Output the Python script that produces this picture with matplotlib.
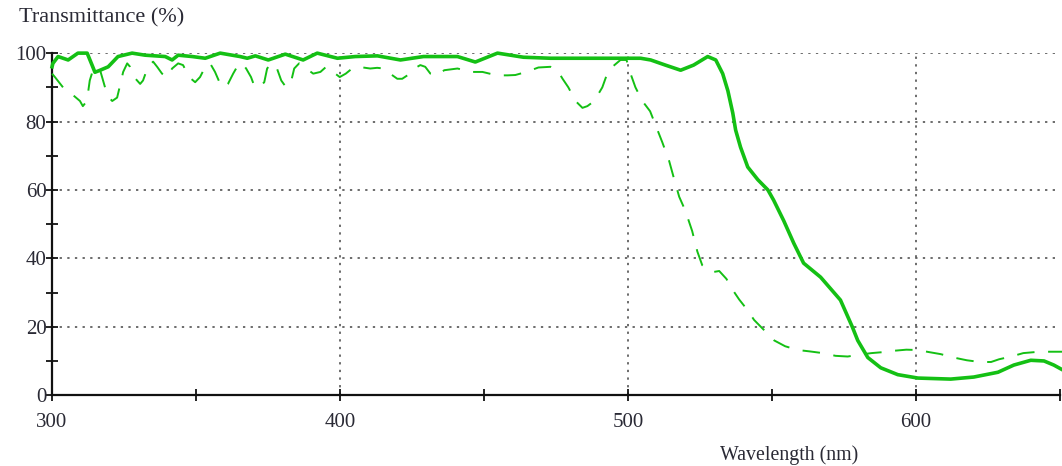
import matplotlib.pyplot as plt
from matplotlib.ticker import MultipleLocator

# solid curve (wavelength nm, transmittance %)
solid_nm = [300.0, 300.3, 302.1, 305.6, 309.0, 312.2, 313.9, 314.9, 316.7, 319.5,
            322.9, 327.8, 332.3, 339.3, 341.7, 343.8, 348.7, 353.2, 358.4, 365.3,
            367.8, 370.6, 375.1, 381.0, 387.2, 392.1, 399.1, 405.3, 413.0, 421.0,
            429.0, 440.8, 447.0, 454.7, 463.7, 473.1, 497.4, 504.4, 507.9, 513.0,
            518.3, 522.8, 527.7, 530.5, 532.9, 534.7, 536.4, 537.4, 539.1, 541.6,
            545.1, 548.6, 550.6, 554.1, 557.6, 561.0, 566.9, 573.8, 577.9, 579.8,
            583.3, 587.8, 593.7, 600.7, 612.1, 620.1, 628.5, 634.0, 639.9, 644.5,
            647.9, 650.5]
solid_t = [96.0, 97.0, 99.0, 98.0, 100.0, 100.0, 96.5, 94.4, 95.0, 96.0,
           99.0, 100.0, 99.4, 99.0, 98.0, 99.4, 99.0, 98.5, 100.0, 99.0,
           98.5, 99.2, 98.0, 99.7, 98.0, 100.0, 98.5, 99.0, 99.2, 98.0,
           99.0, 99.0, 97.4, 100.0, 98.8, 98.5, 98.5, 98.5, 98.0, 96.5,
           95.0, 96.5, 99.0, 98.0, 94.0, 89.0, 82.5, 77.5, 72.5, 66.7,
           63.0, 60.0, 57.0, 51.0, 44.4, 38.6, 34.5, 27.8, 20.0, 16.0,
           11.0, 8.0, 6.0, 5.0, 4.7, 5.3, 6.7, 8.8, 10.2, 10.0,
           8.8, 7.6]

# dashed curve
dashed_nm = [300.0, 301.0, 303.8, 306.9, 309.7, 310.7, 312.1, 313.1, 314.2, 315.6,
             316.7, 318.4, 319.8, 320.9, 322.6, 323.6, 324.7, 326.1, 327.1, 328.8,
             330.6, 331.6, 333.3, 335.1, 336.5, 338.2, 339.9, 341.7, 343.8, 345.5,
             347.6, 349.7, 351.4, 353.2, 354.9, 356.6, 358.4, 359.8, 361.1, 362.9,
             364.6, 366.0, 367.4, 369.1, 370.2, 371.9, 373.7, 374.7, 376.1, 377.9,
             379.6, 381.3, 383.1, 384.1, 385.8, 388.3, 390.7, 393.2, 395.2, 397.6,
             399.9, 402.0, 404.2, 406.3, 410.5, 412.9, 415.4, 417.4, 419.9, 421.6,
             423.4, 425.8, 427.9, 429.6, 431.4, 433.8, 436.2, 440.8, 443.2, 444.9,
             449.5, 454.4, 458.2, 460.6, 460.9, 464.7, 468.9, 473.1, 475.5, 477.3,
             479.3, 481.8, 484.2, 485.9, 488.3, 491.1, 492.8, 494.6, 497.4, 499.5,
             500.9, 502.6, 505.0, 507.7, 509.1, 511.9, 514.3, 516.1, 517.8, 519.9,
             522.3, 524.1, 525.8, 527.9, 529.6, 531.7, 534.2, 536.2, 538.6, 541.4,
             543.8, 547.3, 550.8, 554.6, 559.0, 563.1, 567.6, 572.1, 576.3, 580.1,
             584.6, 588.8, 592.6, 596.7, 600.7, 604.5, 608.6, 613.1, 617.7, 622.2,
             626.1, 628.9, 633.1, 637.3, 641.4, 646.3, 651.4]
dashed_t = [94.0, 93.0, 90.0, 88.0, 86.0, 84.5, 86.0, 92.0, 95.0, 96.0,
            95.0, 90.0, 87.0, 86.0, 87.0, 90.5, 94.5, 97.0, 96.0, 92.7,
            91.0, 92.0, 96.0, 97.5, 96.0, 94.0, 93.0, 95.5, 97.0, 96.5,
            93.0, 91.5, 93.0, 96.0, 97.0, 94.5, 91.0, 90.0, 91.0, 94.0,
            96.5, 97.0, 95.5, 93.0, 90.5, 90.0, 91.5, 95.5, 97.0, 96.0,
            92.0, 90.0, 92.0, 95.5, 97.0, 95.5, 94.0, 94.5, 96.0, 94.5,
            93.0, 94.0, 95.5, 96.0, 95.5, 95.7, 95.5, 94.0, 92.5, 92.5,
            93.5, 95.5, 96.5, 96.0, 94.0, 93.5, 95.0, 95.5, 95.0, 94.5,
            94.5, 93.5, 93.5, 93.6, 93.6, 94.5, 95.8, 96.0, 95.0, 92.5,
            90.0, 86.0, 84.0, 84.5, 86.0, 90.0, 94.0, 96.0, 98.0, 98.0,
            94.0, 90.0, 86.0, 83.0, 80.0, 74.0, 68.5, 63.0, 58.0, 54.0,
            48.0, 42.0, 38.0, 36.5, 36.0, 36.3, 34.0, 31.0, 28.0, 25.0,
            22.0, 19.0, 16.0, 14.3, 13.2, 12.8, 12.3, 11.5, 11.3, 11.8,
            12.3, 12.6, 13.0, 13.3, 13.2, 12.6, 12.0, 11.0, 10.2, 9.7,
            9.7, 10.5, 11.3, 12.3, 12.6, 12.7, 12.7]

green = '#14c014'
text_col = '#2a2a35'

plt.rcParams['font.family'] = ['Liberation Serif', 'DejaVu Serif']

fig = plt.figure(figsize=(10.62, 4.66), dpi=100)
ax = fig.add_axes([0.049, 0.152, 0.949, 0.734])

ax.plot(dashed_nm, dashed_t, color=green, lw=1.4, dashes=(9, 7), clip_on=False, zorder=3)
ax.plot(solid_nm, solid_t, color=green, lw=2.6, clip_on=False, zorder=4)

ax.set_xlim(300, 650)
ax.set_ylim(0, 100)
ax.xaxis.set_major_locator(MultipleLocator(100))
ax.xaxis.set_minor_locator(MultipleLocator(50))
ax.yaxis.set_major_locator(MultipleLocator(20))
ax.yaxis.set_minor_locator(MultipleLocator(10))

ax.grid(True, which='major', color='#444444', lw=1.1, linestyle=(0, (1.5, 3.5)))
ax.set_axisbelow(True)

for s in ['top', 'right']:
    ax.spines[s].set_visible(False)
for s in ['left', 'bottom']:
    ax.spines[s].set_linewidth(1.6)
    ax.spines[s].set_color('#111111')

ax.tick_params(which='both', direction='inout', length=8, width=1.3, color='#111111',
               labelsize=15, labelcolor=text_col)
ax.tick_params(axis='x', pad=9)
ax.tick_params(axis='y', pad=0)

fig.text(0.018, 0.962, 'Transmittance (%)', fontsize=16, color=text_col, va='center', ha='left')
fig.text(0.678, 0.024, 'Wavelength (nm)', fontsize=14.3, color=text_col, va='center', ha='left')

fig.savefig('out.png', dpi=100)
